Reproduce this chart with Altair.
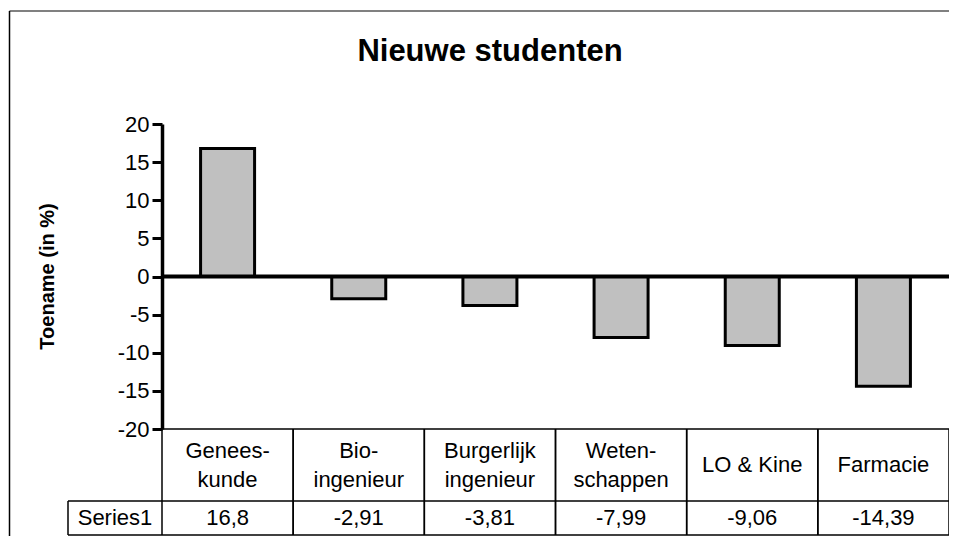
import altair as alt
import pandas as pd

# ---- data ----
categories = ["Genees-\nkunde", "Bio-\ningenieur", "Burgerlijk\ningenieur",
              "Weten-\nschappen", "LO & Kine", "Farmacie"]
values = [16.8, -2.91, -3.81, -7.99, -9.06, -14.39]
y_ticks = [-20, -15, -10, -5, 0, 5, 10, 15, 20]
series_name = "Series1"
title_text = "Nieuwe studenten"
y_title = "Toename (in %)"

# ---- layout ----
PAD_L, PAD_T = 154, 116
TOTAL_W, TOTAL_H = 941, 528
W, H = TOTAL_W - PAD_L, 305
FONT = "Liberation Sans"
T_TOP = H            # table top
T_MID = 377          # line between header row and value row
T_BOT = 411          # table bottom
S_LEFT = -94         # left edge of the "Series1" cell
HDR_C = (T_TOP + T_MID) / 2
VAL_C = (T_MID + T_BOT) / 2
LINE_H = 29

df = pd.DataFrame({"cat": categories, "value": values})
df["label"] = [f"{v:g}".replace(".", ",") for v in values]
parts = [c.split("\n") for c in categories]
df["line1"] = [p[0] if len(p) == 2 else "" for p in parts]
df["line2"] = [p[1] if len(p) == 2 else "" for p in parts]
df["single"] = [p[0] if len(p) == 1 else "" for p in parts]

xscale = alt.Scale(paddingInner=0, paddingOuter=0)
def xenc(**kw):
    return alt.X("cat:N", sort=categories, scale=xscale, axis=None, **kw)

yscale = alt.Scale(domain=[-20, 20], nice=False, zero=False)
y_axis = alt.Axis(
    values=y_ticks, grid=False, domainColor="black", domainWidth=3.5,
    tickColor="black", tickWidth=3, tickSize=10,
    labelFontSize=22, labelFont=FONT, labelColor="black", labelPadding=3,
    labelExpr="toString(datum.value)", labelFlush=False, labelOverlap=False,
    title=y_title, titleFont=FONT, titleFontSize=20, titleFontWeight="bold",
    titleColor="black", titleX=-115, titleY=152, titleAngle=-90,
    titleBaseline="middle", titleAlign="center",
)

base = alt.Chart(df)
one = alt.Chart(alt.Data(values=[{}]))

bars = base.mark_bar(size=54, color="#c0c0c0", stroke="black", strokeWidth=3).encode(
    x=xenc(),
    y=alt.Y("value:Q", scale=yscale, axis=y_axis),
)

zero = one.mark_rule(color="black", strokeWidth=4).encode(
    x=alt.value(0), x2=alt.value(W),
    y=alt.YDatum(0, type="quantitative", scale=yscale, axis=y_axis),
)

# table grid
rule_style = dict(color="black", strokeWidth=1.5)
vlines_l = base.mark_rule(**rule_style).encode(
    x=xenc(bandPosition=0), y=alt.value(T_TOP), y2=alt.value(T_BOT))
vlines_r = base.mark_rule(**rule_style).encode(
    x=xenc(bandPosition=1), y=alt.value(T_TOP), y2=alt.value(T_BOT))
h_top = one.mark_rule(**rule_style).encode(
    x=alt.value(0), x2=alt.value(W), y=alt.value(T_TOP))
h_mid = one.mark_rule(**rule_style).encode(
    x=alt.value(S_LEFT), x2=alt.value(W), y=alt.value(T_MID))
h_bot = one.mark_rule(**rule_style).encode(
    x=alt.value(S_LEFT), x2=alt.value(W), y=alt.value(T_BOT))
v_series = one.mark_rule(**rule_style).encode(
    x=alt.value(S_LEFT), y=alt.value(T_MID), y2=alt.value(T_BOT))

txt = dict(fontSize=22, font=FONT, color="black", baseline="middle")
hdr1 = base.mark_text(**txt).encode(
    x=xenc(), y=alt.value(HDR_C - LINE_H / 2), text="line1:N")
hdr2 = base.mark_text(**txt).encode(
    x=xenc(), y=alt.value(HDR_C + LINE_H / 2), text="line2:N")
hdr_single = base.mark_text(**txt).encode(
    x=xenc(), y=alt.value(HDR_C), text="single:N")
vals = base.mark_text(**txt).encode(
    x=xenc(), y=alt.value(VAL_C), text="label:N")
series_lbl = one.mark_text(**txt).encode(
    x=alt.value(S_LEFT / 2), y=alt.value(VAL_C), text=alt.datum(series_name))

# outer frame
frame_top = one.mark_rule(color="#808080", strokeWidth=2).encode(
    x=alt.value(-152.5), x2=alt.value(W + 2), y=alt.value(-113))
frame_left = one.mark_rule(color="black", strokeWidth=1.5).encode(
    x=alt.value(-152.5), y=alt.value(-113), y2=alt.value(T_BOT + 10))

title = one.mark_text(fontSize=31, font=FONT, fontWeight="bold", color="black",
                      baseline="alphabetic", align="center").encode(
    x=alt.value(328), y=alt.value(-63), text=alt.datum(title_text))

chart = alt.layer(
    bars, zero, vlines_l, vlines_r, h_top, h_mid, h_bot, v_series,
    hdr1, hdr2, hdr_single, vals, series_lbl, frame_top, frame_left, title
).properties(
    width=W, height=H,
    autosize=alt.AutoSizeParams(type="none"),
    padding={"left": PAD_L, "top": PAD_T, "right": TOTAL_W - PAD_L - W,
             "bottom": TOTAL_H - PAD_T - H},
    background="white",
).configure_view(stroke=None)

chart.save("out.html", embed_options={"renderer": "svg", "actions": False})
